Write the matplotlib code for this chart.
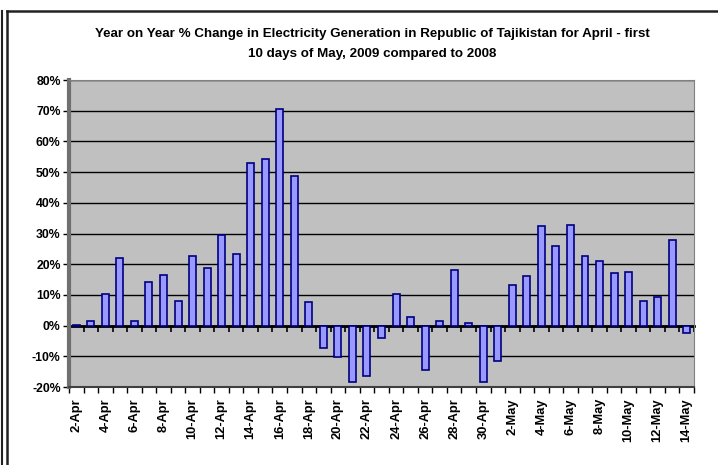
import numpy as np
import matplotlib.pyplot as plt
from matplotlib.lines import Line2D

plt.rcParams['font.family'] = ['Liberation Sans', 'DejaVu Sans']
plt.rcParams['font.weight'] = 'bold'

# daily dates, 2 April - 14 May
days = [f'{d}-Apr' for d in range(2, 31)] + [f'{d}-May' for d in range(1, 15)]
change = [0.2, 1.6, 10.3, 21.9, 1.4, 14.1, 16.4, 8.0, 22.8, 18.7,
          29.4, 23.2, 52.9, 54.4, 70.7, 48.7, 7.8, -7.2, -10.2, -18.3,
          -16.3, -3.9, 10.4, 2.9, -14.5, 1.4, 18.1, 0.8, -18.3, -11.5,
          13.2, 16.0, 32.3, 26.0, 32.8, 22.8, 20.9, 17.1, 17.5, 8.0,
          9.4, 27.8, -2.4]
yticks = [-20, -10, 0, 10, 20, 30, 40, 50, 60, 70, 80]
title = ['Year on Year % Change in Electricity Generation in Republic of Tajikistan for April - first',
         '10 days of May, 2009 compared to 2008']

fig = plt.figure(figsize=(7.18, 4.65), dpi=100)
ax = fig.add_axes([69 / 718, 1 - 387 / 465, 625 / 718, 307 / 465])

x = np.arange(len(days))
ax.set_facecolor('#c0c0c0')
ax.bar(x, change, width=0.48, color='#9999ff', edgecolor='#000080',
       linewidth=1.2, zorder=3)

ax.set_xlim(-0.5, len(days) - 0.5)
ax.set_ylim(-20, 80)
ax.set_yticks(yticks)
ax.set_yticklabels([f'{v}%' for v in yticks], fontsize=8.8)
ax.grid(axis='y', color='black', linewidth=1.0, zorder=1)

# category labels every second day, ticks between categories
ax.set_xticks(x[::2])
ax.set_xticklabels(days[::2], rotation=90, fontsize=9.3)
ax.set_xticks(np.arange(-0.5, len(days)), minor=True)
ax.tick_params(axis='x', which='major', length=0, pad=8)
ax.tick_params(axis='x', which='minor', length=4, width=1, direction='out')
ax.tick_params(axis='y', length=4, width=1, direction='out', pad=2)

for side in ['top', 'right']:
    ax.spines[side].set_color('#808080')
ax.spines['left'].set_color('#707070')
ax.spines['left'].set_linewidth(3)
ax.spines['bottom'].set_color('#404040')
ax.spines['bottom'].set_linewidth(1.5)

# category axis crossing at 0%
zero = ax.secondary_xaxis(0.2)
zero.set_xticks(np.arange(-0.5, len(days)))
zero.set_xticklabels([])
zero.tick_params(length=4, width=1.2, direction='out', color='black')
zero.spines['bottom'].set_linewidth(2)
zero.spines['bottom'].set_color('black')

for line, ypx in zip(title, [34, 54]):
    fig.text(372 / 718, 1 - ypx / 465, line, ha='center', va='center',
             fontsize=9.6, fontweight='bold')

# chart frame
for xs, ys, lw in [([7, 718], [11, 11], 1.8), ([7, 7], [11, 465], 1.8),
                   ([2, 2], [11, 465], 1.5)]:
    fig.add_artist(Line2D([v / 718 for v in xs], [1 - v / 465 for v in ys],
                          color='#222222', linewidth=lw))

fig.savefig('out.png', dpi=100)
